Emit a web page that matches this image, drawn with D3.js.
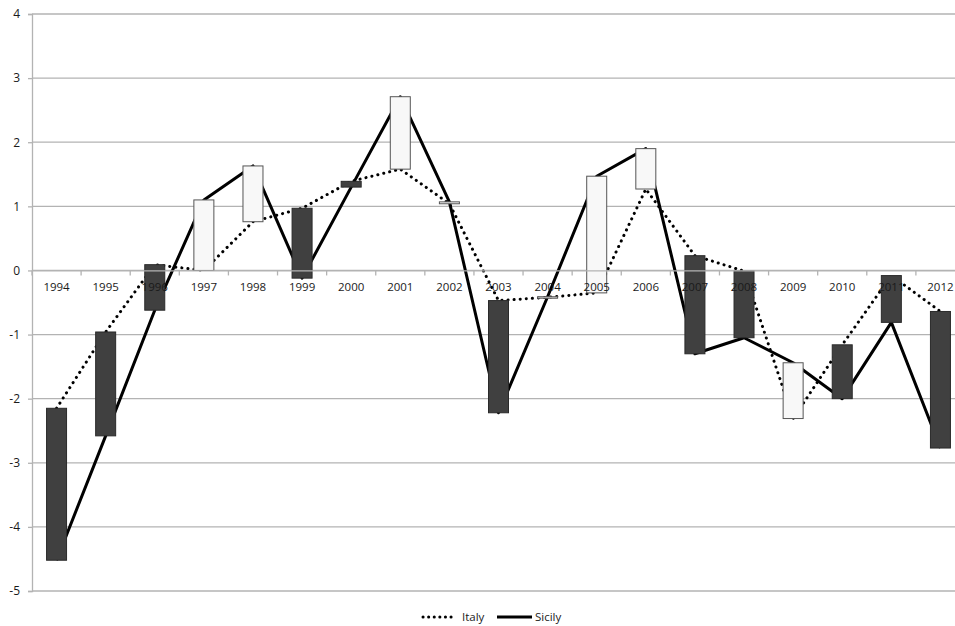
<!DOCTYPE html>
<html>
<head>
<meta charset="utf-8">
<script src="https://cdn.jsdelivr.net/npm/d3@7/dist/d3.min.js"></script>
<style>
  html, body { margin: 0; padding: 0; background: #fff; }
  svg { display: block; }
  text { font-family: "Open Sans", "Liberation Sans", sans-serif; fill: #1a1a1a; }
</style>
</head>
<body>
<svg id="chart" width="955" height="626"></svg>
<script>
const years = ["1994","1995","1996","1997","1998","1999","2000","2001","2002","2003","2004","2005","2006","2007","2008","2009","2010","2011","2012"];
const italy  = [-2.15, -0.96, 0.09, 0.00, 0.76, 0.97, 1.39, 1.58, 1.04, -0.47, -0.42, -0.35, 1.27, 0.23, -0.01, -2.31, -1.16, -0.08, -0.64];
const sicily = [-4.52, -2.58, -0.62, 1.10, 1.63, -0.12, 1.30, 2.71, 1.07, -2.22, -0.41, 1.47, 1.90, -1.30, -1.05, -1.44, -2.00, -0.81, -2.77];
const yTicks = [-5, -4, -3, -2, -1, 0, 1, 2, 3, 4];
const seriesNames = ["Italy", "Sicily"];

const svg = d3.select("#chart");
const pL = 32, pR = 965, pT = 14, pB = 591;

const x = d3.scaleBand().domain(years).range([pL, pR]).padding(0);
const y = d3.scaleLinear().domain([-5, 4]).range([pB, pT]);

const data = years.map((yr, i) => ({ yr, it: italy[i], si: sicily[i] }));

// gridlines
svg.append("g").selectAll("line").data(yTicks).join("line")
  .attr("x1", pL).attr("x2", pR)
  .attr("y1", d => y(d)).attr("y2", d => y(d))
  .attr("stroke", "#b3b3b3").attr("stroke-width", 1.3);

// y axis
const yAxis = d3.axisLeft(y).tickValues(yTicks).tickSize(4).tickPadding(8).tickFormat(d => String(d));
const gy = svg.append("g").attr("transform", `translate(${pL},0)`).call(yAxis);
gy.select(".domain").attr("stroke", "#b3b3b3").attr("stroke-width", 1.3);
gy.selectAll(".tick line").attr("stroke", "#b3b3b3").attr("stroke-width", 1.3);
gy.selectAll(".tick text").style("font-size", "12px").attr("fill", "#1a1a1a")
  .style("font-family", '"Open Sans", sans-serif');

// lines
const lineIt = d3.line().x(d => x(d.yr) + x.bandwidth() / 2).y(d => y(d.it));
const lineSi = d3.line().x(d => x(d.yr) + x.bandwidth() / 2).y(d => y(d.si));

svg.append("path").datum(data).attr("d", lineSi)
  .attr("fill", "none").attr("stroke", "#000").attr("stroke-width", 3)
  .attr("stroke-linejoin", "round");
svg.append("path").datum(data).attr("d", lineIt)
  .attr("fill", "none").attr("stroke", "#000").attr("stroke-width", 3)
  .attr("stroke-linecap", "round").attr("stroke-dasharray", "0.1 6");

// up/down bars
const bw = 20;
svg.append("g").selectAll("rect").data(data).join("rect")
  .attr("x", d => x(d.yr) + x.bandwidth() / 2 - bw / 2)
  .attr("width", bw)
  .attr("y", d => y(Math.max(d.it, d.si)))
  .attr("height", d => Math.max(1.5, Math.abs(y(d.it) - y(d.si))))
  .attr("fill", d => d.si >= d.it ? "#f8f8f8" : "#404040")
  .attr("stroke", d => d.si >= d.it ? "#555" : "#2a2a2a")
  .attr("stroke-width", 1);

// x axis at zero
const xAxis = d3.axisBottom(x).tickSize(5).tickPadding(7).tickSizeOuter(0);
const gx = svg.append("g").attr("transform", `translate(0,${y(0)})`).call(xAxis);
gx.select(".domain").attr("stroke", "#b3b3b3").attr("stroke-width", 1.3);
gx.selectAll(".tick line").remove();
gx.selectAll(".tick text").style("font-size", "11.5px").attr("fill", "#1a1a1a")
  .style("font-family", '"Open Sans", sans-serif');
// boundary ticks between categories
svg.append("g").selectAll("line").data(years).join("line")
  .attr("x1", d => x(d)).attr("x2", d => x(d))
  .attr("y1", y(0)).attr("y2", y(0) + 5)
  .attr("stroke", "#b3b3b3").attr("stroke-width", 1.3);

// legend
const lg = svg.append("g");
lg.append("line").attr("x1", 423).attr("x2", 453).attr("y1", 617).attr("y2", 617)
  .attr("stroke", "#000").attr("stroke-width", 3).attr("stroke-linecap", "round")
  .attr("stroke-dasharray", "0.1 5.5");
lg.append("text").attr("x", 462).attr("y", 621).style("font-size", "11.5px").text(seriesNames[0]);
lg.append("line").attr("x1", 497).attr("x2", 532).attr("y1", 617).attr("y2", 617)
  .attr("stroke", "#000").attr("stroke-width", 3);
lg.append("text").attr("x", 535).attr("y", 621).style("font-size", "11.5px").text(seriesNames[1]);
</script>
</body>
</html>
